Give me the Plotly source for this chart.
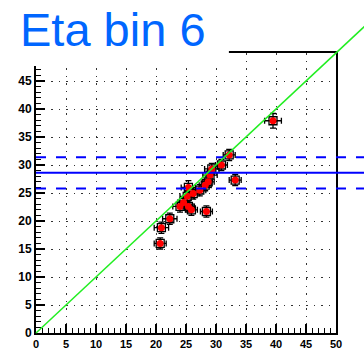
import plotly.graph_objects as go

# Measured points (x = reference energy, y = reconstructed energy)
x_vals = [20.7, 20.9, 22.3, 24.0, 24.6, 25.4, 25.9, 25.2, 26.2, 25.4,
          27.3, 28.2, 28.7, 29.0, 29.3, 30.9, 32.2, 33.2, 28.4, 39.5]
y_vals = [16.0, 18.8, 20.4, 22.6, 23.3, 22.6, 22.0, 24.4, 24.9, 26.0,
          25.5, 26.4, 27.0, 28.2, 29.3, 30.0, 31.8, 27.3, 21.7, 37.9]
x_err = [1.0, 1.2, 1.2, 1.2, 1.0, 1.0, 1.0, 1.2, 1.0, 1.2,
         1.0, 1.0, 1.0, 1.2, 1.2, 1.0, 1.0, 1.0, 1.0, 1.4]
y_err = [1.0, 1.0, 1.0, 1.0, 1.0, 1.0, 1.0, 1.0, 1.0, 1.2,
         1.0, 1.0, 1.0, 1.0, 1.0, 1.0, 1.0, 1.0, 1.0, 1.3]

# Mean level and its +/- band
mean_y = 28.6
band_lo = 25.8
band_hi = 31.4

# Axis setup
X_RANGE = [0, 50]
Y_RANGE = [0, 50]
x_tick_vals = list(range(0, 51, 5))
x_tick_text = [str(v) for v in x_tick_vals]
y_tick_vals = list(range(0, 46, 5))
y_tick_text = [str(v) for v in y_tick_vals]

# Diagonal y = x, running past the frame
diag = [0, 55]
# Horizontal lines run from the y axis to past the right edge
hline_x = [0, 55]

title_text = "Eta bin 6"


def dom_x(v):
    return (v - X_RANGE[0]) / (X_RANGE[1] - X_RANGE[0])


def dom_y(v):
    return (v - Y_RANGE[0]) / (Y_RANGE[1] - Y_RANGE[0])


fig = go.Figure()

# black open squares with error bars
fig.add_trace(go.Scatter(
    x=x_vals, y=y_vals, mode="markers",
    marker=dict(symbol="square-open", size=8, color="black",
                line=dict(width=1.3, color="black")),
    error_x=dict(type="data", array=x_err, color="black", thickness=1.3, width=3),
    error_y=dict(type="data", array=y_err, color="black", thickness=1.3, width=3),
    showlegend=False, hoverinfo="skip",
))
# red filled circles
fig.add_trace(go.Scatter(
    x=x_vals, y=y_vals, mode="markers",
    marker=dict(symbol="circle", size=7, color="#ff0000", line=dict(width=0)),
    showlegend=False,
))

shapes = []
# mean line and band
shapes.append(dict(type="line", xref="x domain", yref="y domain",
                   x0=dom_x(hline_x[0]), x1=dom_x(hline_x[1]),
                   y0=dom_y(mean_y), y1=dom_y(mean_y),
                   line=dict(color="#0000ff", width=2), layer="above"))
for yv in (band_lo, band_hi):
    shapes.append(dict(type="line", xref="x domain", yref="y domain",
                       x0=dom_x(hline_x[0]), x1=dom_x(hline_x[1]),
                       y0=dom_y(yv), y1=dom_y(yv),
                       line=dict(color="#0000ff", width=2, dash="10px,10px"),
                       layer="above"))
# diagonal
shapes.append(dict(type="line", xref="x domain", yref="y domain",
                   x0=dom_x(diag[0]), y0=dom_y(diag[0]),
                   x1=dom_x(diag[1]), y1=dom_y(diag[1]),
                   line=dict(color="#22ee22", width=1.5), layer="above"))
# title pave covering the top-left corner of the frame
shapes.append(dict(type="rect", xref="paper", yref="paper",
                   x0=-0.13, x1=0.643, y0=0.9536, y1=1.2,
                   fillcolor="white", line=dict(width=0), layer="above"))

axis_common = dict(
    showline=True, linecolor="black", linewidth=2, mirror=True,
    ticks="inside", ticklen=9, tickwidth=2, tickcolor="black",
    tickmode="array",
    showgrid=True, gridcolor="#333333", gridwidth=1.3, griddash="1.5px,6px",
    zeroline=False, automargin=False,
    minor=dict(dtick=1, ticks="inside", ticklen=5, tickwidth=1.2,
               tickcolor="black", showgrid=False),
)

fig.update_xaxes(range=X_RANGE, tickvals=x_tick_vals, ticktext=x_tick_text,
                 tickfont=dict(family="Liberation Sans", size=11, color="black",
                               weight="bold"),
                 **axis_common)
fig.update_yaxes(range=Y_RANGE, tickvals=y_tick_vals, ticktext=y_tick_text,
                 tickfont=dict(family="Liberation Sans", size=12, color="black",
                               weight="bold"),
                 **axis_common)

fig.update_layout(
    width=364, height=349,
    margin=dict(l=36, r=28, t=53, b=16, pad=0),
    paper_bgcolor="white", plot_bgcolor="white",
    shapes=shapes,
    annotations=[dict(
        text=title_text, xref="paper", yref="paper",
        x=-0.06, y=1.0857, xanchor="left", yanchor="middle",
        showarrow=False,
        font=dict(family="Liberation Sans", size=47, color="#0066ff"),
    )],
)

fig.write_html("out.html")
